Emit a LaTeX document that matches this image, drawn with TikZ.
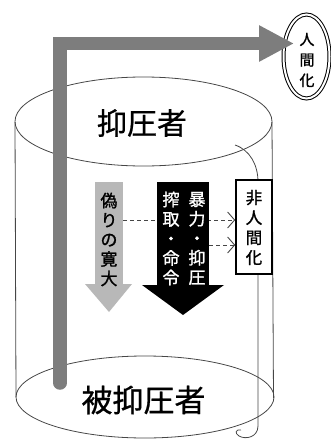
\documentclass[tikz,border=0pt]{standalone}
\usepackage{fontspec}
\newfontfamily\cjk{Noto Sans CJK JP}[FakeBold=0.7]
\newfontfamily\cjkb{Noto Sans CJK JP}[FakeBold=1.2]
\usetikzlibrary{arrows.meta,shapes.geometric}
\pgfdeclarelayer{back}
\pgfsetlayers{back,main}
\definecolor{bargray}{RGB}{125,125,125}
\definecolor{lightarrow}{RGB}{184,184,184}
\definecolor{lineg}{RGB}{70,70,70}
\begin{document}
\begin{tikzpicture}[x=1pt,y=-1pt,
  cyl/.style={draw=lineg, line width=0.8pt},
  bigbar/.style={draw=bargray, line width=13.5pt, line cap=round, line join=miter,
    -{Triangle[length=35pt 0,width=34pt 0]}},
  vtxt/.style={font=\cjkb\fontsize{17}{19.5}\selectfont, align=center, inner sep=0pt},
  dashcon/.style={draw=lineg, line width=0.9pt, dash pattern=on 4pt off 3pt,
    -{Straight Barb[length=7pt,width=16pt]}},
  bigtxt/.style={font=\cjk\fontsize{30}{32}\selectfont, inner sep=0pt}
]
\useasboundingbox (0,0) rectangle (331,439);
% cylinder
\draw[cyl] (143.5,121.5) ellipse [x radius=128.5, y radius=44.5];
\draw[cyl] (145,397) ellipse [x radius=129, y radius=41];
\draw[cyl] (15,122) -- (16,397);
\draw[cyl] (272,122) -- (273.5,398);
\draw[cyl] (235,145) .. controls (250,150) and (258,165) .. (258,182) -- (258,426)
  .. controls (258,437) and (246,440) .. (239,436) .. controls (234,433) and (236,429) .. (241,430);
% humanization ellipse
\node[ellipse, draw=black, line width=1pt, double, double distance=2pt,
  minimum width=46pt, minimum height=84pt, inner sep=0pt] (hum) at (306.5,56.5) {};
\node[font=\cjkb\fontsize{15}{20.5}\selectfont, align=center, inner sep=0pt] (humtxt) at (307,60) {人\\間\\化};
% big gray arrow
\coordinate (bstart) at (60,383);
\coordinate (btip) at (294,43.5);
\draw[bigbar] (bstart) |- (btip);
% texts
\node[bigtxt] (opp) at (142,123) {抑圧者};
\node[bigtxt, font=\cjk\fontsize{31}{33}\selectfont] (opd) at (143.5,400) {被抑圧者};
% light arrow
\node[fill=lightarrow, minimum width=28pt, minimum height=103pt, inner sep=0pt] (fa) at (109,233.5) {};
\fill[lightarrow] (85,284) -- (132,284) -- (109,312) -- cycle;
\node[vtxt] (fatxt) at (109,239.5) {偽\\り\\の\\寛\\大};
% black arrow
\node[fill=black, minimum width=52pt, minimum height=104pt, inner sep=0pt] (ba) at (183,234) {};
\fill[black] (142,285) -- (224,285) -- (183,315) -- cycle;
\node[vtxt, text=white] (batxtr) at (197,238.5) {暴\\力\\・\\抑\\圧};
\node[vtxt, text=white] (batxtl) at (171,238.5) {搾\\取\\・\\命\\令};
% dehumanization box
\node[draw=black, fill=white, line width=1.6pt, minimum width=36pt, minimum height=94pt, inner sep=0pt] (nh) at (254,227) {};
\node[vtxt, font=\cjkb\fontsize{16.5}{20}\selectfont] (nhtxt) at (254,227.5) {非\\人\\間\\化};
% dashed connectors
\begin{pgfonlayer}{back}
\draw[dashcon] (fa.east |- 0,220) -- (nh.west |- 0,220);
\end{pgfonlayer}
\draw[dashcon] (ba.east |- 0,245) -- (nh.west |- 0,245);
\end{tikzpicture}
\end{document}
